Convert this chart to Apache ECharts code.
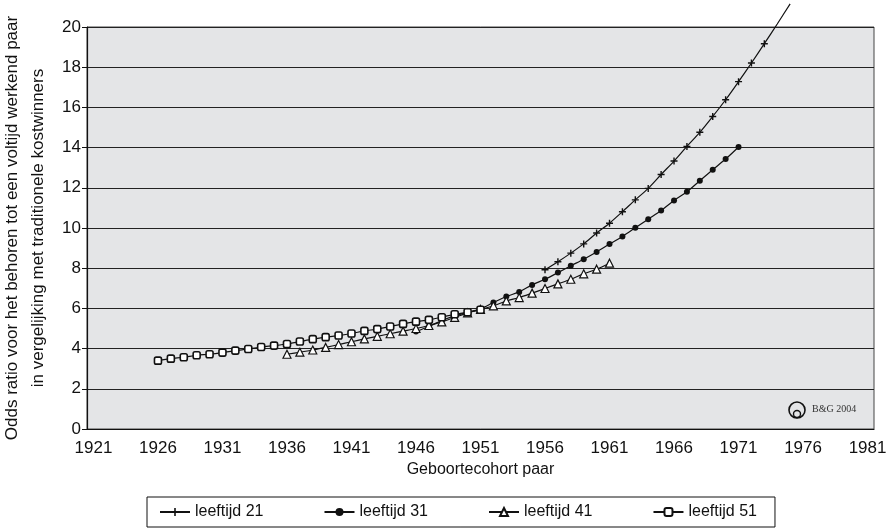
<!DOCTYPE html>
<html>
<head>
<meta charset="utf-8">
<script src="https://cdn.jsdelivr.net/npm/echarts@6/dist/echarts.min.js"></script>
<style>
html, body { margin: 0; padding: 0; background: #fff; }
#chart { width: 889px; height: 532px; }
</style>
</head>
<body>
<div id="chart"></div>
<script>
// categorie-as: geboortejaren 1921..1981
const years = [];
for (let y = 1921; y <= 1981; y++) years.push(String(y));

// leeftijd 21: 1956..1975 (laatste twee buiten de grafiek, zonder marker)
const start21 = 1956;
const val21 = [7.92, 8.32, 8.75, 9.21, 9.75, 10.24, 10.81, 11.40, 11.97, 12.66,
               13.33, 14.06, 14.76, 15.55, 16.38, 17.28, 18.21, 19.17, 20.15, 21.15];
// leeftijd 31: 1946..1971
const start31 = 1946;
const val31 = [4.85, 5.10, 5.40, 5.63, 5.80, 5.98, 6.29, 6.59, 6.82, 7.17,
               7.45, 7.78, 8.12, 8.45, 8.81, 9.20, 9.58, 10.01, 10.44, 10.87,
               11.37, 11.80, 12.35, 12.90, 13.43, 14.03];
// leeftijd 41: 1936..1961
const start41 = 1936;
const val41 = [3.72, 3.82, 3.93, 4.06, 4.20, 4.34, 4.48, 4.61, 4.74, 4.87,
               5.00, 5.15, 5.33, 5.55, 5.78, 5.95, 6.13, 6.37, 6.54, 6.76,
               6.99, 7.22, 7.45, 7.72, 7.95, 8.25];
// leeftijd 51: 1926..1951
const start51 = 1926;
const val51 = [3.40, 3.50, 3.57, 3.67, 3.72, 3.80, 3.90, 3.98, 4.08, 4.15,
               4.23, 4.35, 4.47, 4.57, 4.65, 4.75, 4.88, 4.97, 5.10, 5.23,
               5.34, 5.43, 5.56, 5.71, 5.81, 5.93];

const yTicks = { min: 0, max: 20, step: 2 };

function pad(start, vals) {
  const out = years.map(() => '-');
  vals.forEach((v, i) => { out[start - 1921 + i] = v; });
  return out;
}

const plusPath = 'path://M4,0h2v4h4v2h-4v4h-2v-4h-4v-2h4z';

let d21 = pad(start21, val21);
// punten boven 20 worden zonder marker getekend
d21 = d21.map(v => (v !== '-' && v > 20) ? { value: v, symbol: 'none' } : v);

const lineStyle = { color: '#111', width: 1.2 };

let myChart = echarts.init(document.getElementById('chart'));
myChart.setOption({
  animation: false,
  textStyle: { fontFamily: 'Liberation Sans, Arial, sans-serif' },
  grid: {
    left: 87, right: 15, top: 27, bottom: 103,
    containLabel: false,
    outerBoundsMode: 'none',
    show: true,
    backgroundColor: '#e4e5e7',
    borderColor: '#444',
    borderWidth: 1
  },
  legend: {
    left: 147, top: 497,
    padding: [7, 18, 7, 12],
    itemGap: 60,
    itemWidth: 30, itemHeight: 10,
    borderColor: '#111', borderWidth: 1,
    textStyle: { fontSize: 16, color: '#111' },
    data: ['leeftijd 21', 'leeftijd 31', 'leeftijd 41', 'leeftijd 51']
  },
  xAxis: {
    type: 'category',
    data: years,
    boundaryGap: true,
    name: 'Geboortecohort paar',
    nameLocation: 'middle',
    nameGap: 31,
    nameTextStyle: { fontSize: 16, color: '#111' },
    axisLine: { lineStyle: { color: '#111', width: 1.2 } },
    axisTick: { interval: 0, length: 5, lineStyle: { color: '#111' } },
    axisLabel: { interval: 4, fontSize: 17, color: '#111', margin: 11 },
    splitLine: { show: false }
  },
  yAxis: {
    type: 'value',
    min: yTicks.min, max: yTicks.max, interval: yTicks.step,
    name: 'Odds ratio voor het behoren tot een voltijd werkend paar\nin vergelijking met traditionele kostwinners',
    nameLocation: 'middle',
    nameGap: 35,
    nameTextStyle: { fontSize: 17, color: '#111', lineHeight: 26 },
    axisLine: { show: true, lineStyle: { color: '#111', width: 1.2 } },
    axisTick: { show: true, length: 5, lineStyle: { color: '#111' } },
    axisLabel: { fontSize: 17, color: '#111', margin: 6 },
    splitLine: { lineStyle: { color: '#222', width: 1.2 } }
  },
  series: [
    {
      name: 'leeftijd 21', type: 'line', smooth: 0.3, clip: false,
      data: d21,
      symbol: plusPath, symbolSize: 7,
      itemStyle: { color: '#111' },
      lineStyle: lineStyle
    },
    {
      name: 'leeftijd 31', type: 'line', smooth: 0.3,
      data: pad(start31, val31),
      symbol: 'circle', symbolSize: 6,
      itemStyle: { color: '#111' },
      lineStyle: lineStyle
    },
    {
      name: 'leeftijd 41', type: 'line', smooth: 0.3,
      data: pad(start41, val41),
      symbol: 'triangle', symbolSize: 8,
      itemStyle: { color: '#fff', borderColor: '#111', borderWidth: 1.2 },
      lineStyle: lineStyle
    },
    {
      name: 'leeftijd 51', type: 'line', smooth: 0.3,
      data: pad(start51, val51),
      symbol: 'roundRect', symbolSize: 7,
      itemStyle: { color: '#fff', borderColor: '#111', borderWidth: 1.6 },
      lineStyle: lineStyle
    }
  ],
  graphic: [
    { type: 'circle', shape: { cx: 797, cy: 410, r: 8 },
      style: { fill: 'none', stroke: '#111', lineWidth: 1.6 } },
    { type: 'circle', shape: { cx: 797, cy: 414, r: 3.5 },
      style: { fill: 'none', stroke: '#111', lineWidth: 1.4 } },
    { type: 'text', left: 812, top: 404,
      style: { text: 'B&G 2004', fontSize: 10, fontFamily: 'Liberation Serif, serif', fill: '#333' } }
  ]
});
</script>
</body>
</html>
